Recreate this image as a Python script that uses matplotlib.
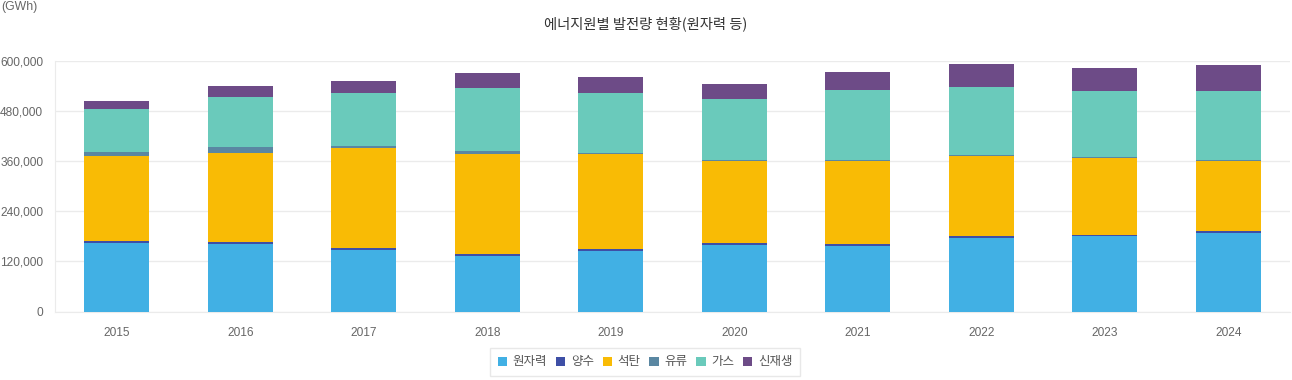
import matplotlib
matplotlib.use("Agg")
import matplotlib.pyplot as plt
from matplotlib.ticker import FuncFormatter
from matplotlib.patches import Patch

years = ["2015", "2016", "2017", "2018", "2019", "2020", "2021", "2022", "2023", "2024"]
nuclear = [164762, 161995, 148427, 133505, 145910, 160184, 158015, 176054, 180475, 188754]
pumped = [3705, 3686, 4056, 4737, 3458, 3271, 3650, 3718, 3500, 4500]
coal = [204230, 213803, 238799, 239033, 227384, 196333, 197966, 193232, 184855, 168000]
oil = [10500, 13500, 5000, 6000, 3300, 2300, 2400, 2000, 1800, 800]
gas = [100784, 121018, 126039, 152924, 144355, 145911, 168262, 163574, 157704, 167000]
renew = [19700, 27200, 30900, 34000, 36400, 38000, 44500, 53100, 56000, 62300]

names = ["원자력", "양수", "석탄", "유류", "가스", "신재생"]
colors = ["#41b0e4", "#3e4fa6", "#f9bb05", "#5a87a2", "#6acabb", "#6d4b87"]
series = [nuclear, pumped, coal, oil, gas, renew]

KR = ["Noto Sans CJK KR", "DejaVu Sans"]
NUM = ["Liberation Sans", "DejaVu Sans"]

fig = plt.figure(figsize=(12.92, 3.80), dpi=100)
ax = fig.add_axes([55 / 1292, 68.5 / 380, 1235 / 1292, 250.5 / 380])

x = list(range(len(years)))
bottom = [0] * len(years)
for vals, c in zip(series, colors):
    ax.bar(x, vals, bottom=bottom, width=0.53, color=c, zorder=3, linewidth=0)
    bottom = [b + v for b, v in zip(bottom, vals)]

ax.set_xlim(-0.5, len(years) - 0.5)
ax.set_ylim(0, 600000)
ax.set_yticks([0, 120000, 240000, 360000, 480000, 600000])
ax.yaxis.set_major_formatter(FuncFormatter(lambda v, p: f"{int(v):,}"))
ax.set_xticks(x)
ax.set_xticklabels(years)
ax.grid(axis="y", color="#ebebeb", linewidth=1, zorder=0)
for s in ["top", "right"]:
    ax.spines[s].set_visible(False)
ax.spines["left"].set_color("#ebebeb")
ax.spines["bottom"].set_color("#ebebeb")
ax.tick_params(axis="both", length=0, colors="#666666", labelsize=8.6)
ax.tick_params(axis="x", pad=11)
ax.tick_params(axis="y", pad=8.5)
for lab in ax.get_xticklabels() + ax.get_yticklabels():
    lab.set_family(NUM)

fig.text(0.5, 1 - 24 / 380, "에너지원별 발전량 현황(원자력 등)", ha="center", va="center",
         fontsize=10.3, color="#333333", family=KR)
fig.text(1 / 1292, 1 - 7 / 380, "(GWh)", ha="left", va="center", fontsize=8.8,
         color="#666666", family=NUM)

handles = [Patch(facecolor=c, edgecolor="none") for c in colors]
leg = fig.legend(handles, names, loc="center", bbox_to_anchor=(645 / 1292, 1 - 362 / 380),
                 ncol=6, frameon=True, prop={"family": KR, "size": 9},
                 handlelength=0.75, handleheight=0.75, handletextpad=0.45, columnspacing=0.7,
                 borderpad=0.6, borderaxespad=0, fancybox=False, labelcolor="#555555")
leg.get_frame().set_edgecolor("#e3e3e3")
leg.get_frame().set_linewidth(1)

fig.savefig("out.png", dpi=100, facecolor="white")
